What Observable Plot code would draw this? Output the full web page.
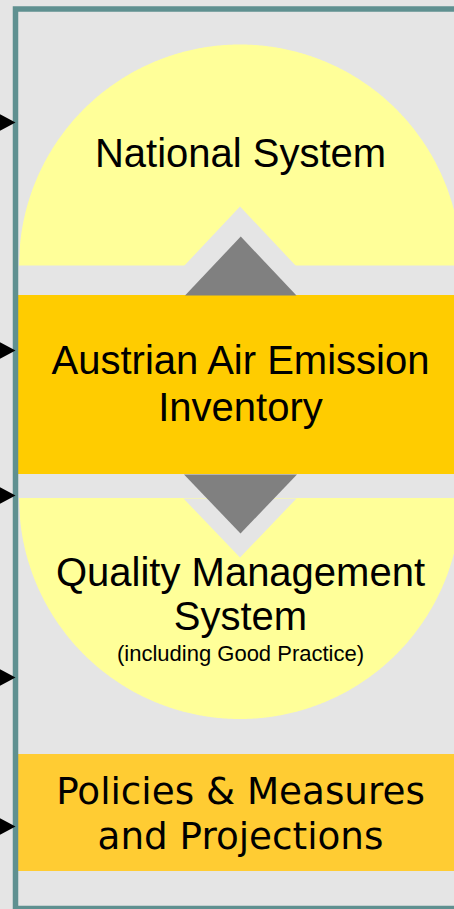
<!DOCTYPE html>
<html>
<head>
<meta charset="utf-8">
<script src="https://cdn.jsdelivr.net/npm/d3@7"></script>
<script src="https://cdn.jsdelivr.net/npm/@observablehq/plot@0.6"></script>
<style>
  html, body { margin: 0; padding: 0; background: #e5e5e5; }
  #chart svg { display: block; }
</style>
</head>
<body>
<div id="chart"></div>
<script>
// ---- content (text of the diagram) ----
const blockNames = ["National System", "Austrian Air Emission Inventory", "Quality Management System", "Policies & Measures and Projections"];
const labelLines = ["National System", "Austrian Air Emission", "Inventory", "Quality Management", "System", "(including Good Practice)", "Policies & Measures", "and Projections"];
const labelBlock = [0, 1, 1, 2, 2, 2, 3, 3];
const arrowRows = [122, 350, 495, 677, 826];

// ---- layout (diagram geometry, in pixels) ----
const W = 454, H = 909;
const cx = 240, R = 221;
const topCircleY = 265.5, bottomCircleY = 498;
const lineBaselines = [166, 373, 420, 585, 629, 660, 803, 848];
const lineSizes = [40, 40, 40, 40, 40, 22, 37.3, 37.3];
const lineFonts = ["Liberation Sans", "Liberation Sans", "Liberation Sans", "Liberation Sans", "Liberation Sans", "Liberation Sans", "DejaVu Sans", "DejaVu Sans"];

const labels = labelLines.map((t, i) => ({text: t, block: blockNames[labelBlock[i]], x: cx, y: lineBaselines[i], size: lineSizes[i], font: lineFonts[i]}));

function halfDisc(cy, dir) {
  const pts = [];
  for (let k = 0; k <= 400; k++) {
    const x = cx - R + (2 * R * k) / 400;
    const h = Math.sqrt(Math.max(0, R * R - (x - cx) * (x - cx)));
    pts.push({x, y1: cy, y2: cy + dir * h});
  }
  return pts;
}
function tri(x1, x2, yb, ya) {
  return [{x: x1, y: yb}, {x: (x1 + x2) / 2, y: ya}, {x: x2, y: yb}];
}
function poly(points, fill) {
  return Plot.line(points, {x: "x", y: "y", fill, stroke: "none", curve: "linear"});
}

const bg = "#e5e5e5";
const arrows = arrowRows.flatMap((y, i) => [
  {id: i, x: -1, y: y - 8.5}, {id: i, x: 15, y: y}, {id: i, x: -1, y: y + 8.5}
]);

const chart = Plot.plot({
  width: W,
  height: H,
  margin: 0,
  style: {background: bg},
  x: {type: "linear", domain: [0, W], range: [0, W], axis: null},
  y: {type: "linear", domain: [0, H], range: [0, H], axis: null},
  marks: [
    // half discs
    Plot.areaY(halfDisc(topCircleY, -1), {x: "x", y1: "y1", y2: "y2", fill: "#ffff99", clip: true}),
    Plot.areaY(halfDisc(bottomCircleY, 1), {x: "x", y1: "y1", y2: "y2", fill: "#ffff99", clip: true}),
    // notches cut into the half discs
    poly(tri(183, 296, 266, 206), bg),
    poly(tri(183, 296, 498, 557), bg),
    // boxes
    Plot.rect([{x1: 18, x2: W + 10, y1: 295, y2: 474}], {x1: "x1", x2: "x2", y1: "y1", y2: "y2", fill: "#ffcc00", clip: true}),
    Plot.rect([{x1: 18, x2: W + 10, y1: 754, y2: 871}], {x1: "x1", x2: "x2", y1: "y1", y2: "y2", fill: "#ffcc33", clip: true}),
    // grey arrow heads
    poly(tri(184.5, 296, 295, 236), "#808080"),
    poly(tri(183.5, 296.5, 474, 533), "#808080"),
    // frame
    Plot.rect([{x1: 15.5, x2: W + 20, y1: 9, y2: 908.5}], {x1: "x1", x2: "x2", y1: "y1", y2: "y2", fill: "none", stroke: "#5f9090", strokeWidth: 5.5, clip: true}),
    // black arrows on the left
    Plot.line(arrows, {x: "x", y: "y", z: "id", fill: "#000", stroke: "none", clip: true}),
    // labels
    ...labels.map(d => Plot.text([d], {
      x: "x", y: "y", text: "text",
      fontSize: d.size, fontFamily: d.font,
      textAnchor: "middle", lineAnchor: "bottom", fill: "#000"
    }))
  ]
});
document.getElementById("chart").appendChild(chart);
</script>
</body>
</html>
